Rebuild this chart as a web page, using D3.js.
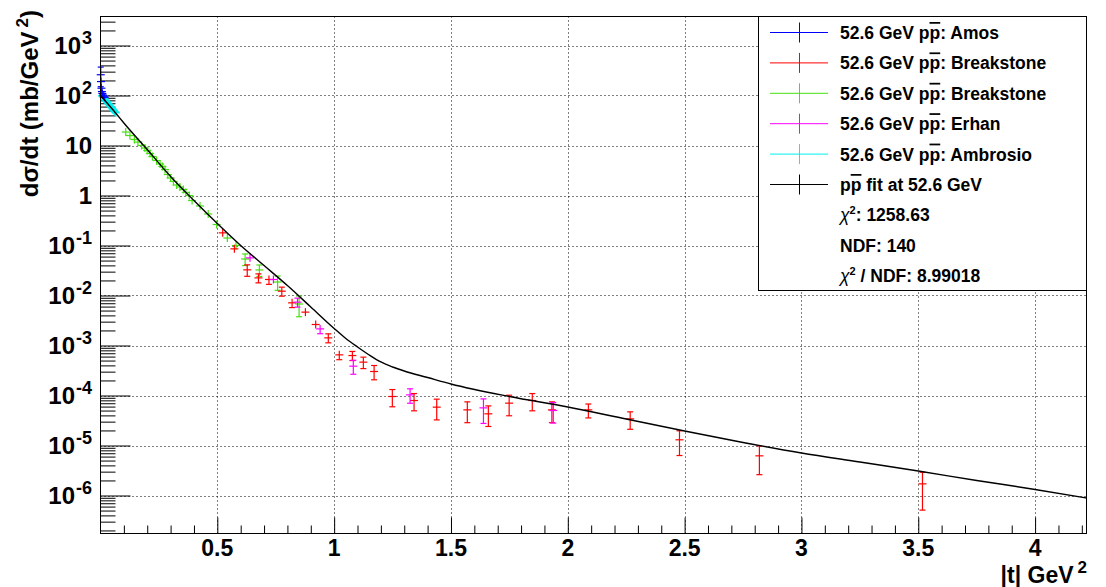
<!DOCTYPE html>
<html><head><meta charset="utf-8">
<script src="https://cdn.jsdelivr.net/npm/d3@7"></script>
<style>
body{margin:0;background:#fff}
text{font-family:"Liberation Sans",Arial,Helvetica,sans-serif;font-weight:bold;fill:#000}
</style>
</head><body>
<svg id="c" width="1106" height="587"></svg>
<script>
// ---------------- data ----------------
// Amos (blue)
const amosT = [0.001, 0.002, 0.004, 0.006, 0.008, 0.011, 0.014, 0.018];
const amosV = [260, 190, 140, 120, 110, 102, 97, 92];
const amosE = [110, 30, 12, 9, 7, 6, 5, 5];
// Breakstone (red)
const brkT = [0.523,0.573,0.628,0.676,0.721,0.776,0.82,0.877,0.921,0.975,1.022,1.078,1.125,1.171,1.249,1.342,1.439,1.57,1.66,1.749,1.848,1.932,2.088,2.267,2.478,2.82,3.518];
const brkV = [0.179,0.0857,0.0326,0.0225,0.0209,0.0122,0.00713,0.00465,0.00263,0.00142,0.00065,0.00063,0.000465,0.000302,9.55e-5,7.94e-5,5.85e-5,5.16e-5,4.30e-5,7.03e-5,7.94e-5,5.16e-5,5.16e-5,3.41e-5,1.30e-5,6.21e-6,1.71e-6];
const brkE = [0.017,0.008,0.0084,0.0046,0.0042,0.0025,0.0014,0.0007,0.0004,0.00029,0.00013,0.00013,0.00012,0.000096,3.6e-5,3.0e-5,2.6e-5,2.3e-5,1.9e-5,3.1e-5,3.0e-5,2.3e-5,1.6e-5,1.3e-5,6.7e-6,3.6e-6,1.2e-6];
// Breakstone (green)
const brk2T = [0.108,0.126,0.145,0.160,0.176,0.190,0.200,0.212,0.222,0.240,0.255,0.265,0.276,0.288,0.300,0.312,0.326,0.340,0.355,0.365,0.380,0.392,0.426,0.461,0.497,0.543,0.58,0.619,0.68,0.758,0.85];
const brk2V = [18.6,15.8,13.2,11.7,10.0,8.91,7.94,6.92,6.03,5.01,4.27,3.80,3.31,2.63,2.24,1.91,1.62,1.48,1.32,1.15,1.00,0.794,0.617,0.427,0.263,0.141,0.100,0.0537,0.0324,0.0186,0.00676];
const brk2E = [1.5,1.3,1.1,0.9,0.8,0.7,0.6,0.55,0.5,0.4,0.35,0.3,0.27,0.21,0.18,0.15,0.13,0.12,0.11,0.09,0.08,0.065,0.05,0.035,0.025,0.014,0.012,0.014,0.0084,0.0059,0.0030];
// Erhan (magenta)
const erhT = [0.64,0.74,0.843,0.94,1.082,1.325,1.639,1.938];
const erhV = [0.0566,0.0209,0.00736,0.00215,0.000386,0.000103,5.66e-5,5.01e-5];
const erhE = [0.0084,0.0031,0.0015,0.00043,0.00012,3.3e-5,2.9e-5,2.2e-5];
// Ambrosio (cyan)
const ambT = [0.006,0.009,0.012,0.015,0.018,0.021,0.024,0.027,0.030,0.033,0.036,0.039,0.042,0.045,0.048,0.051,0.054,0.057,0.060,0.063,0.066];
const ambV = [99,95,91,88,85,81,78,75,72,69,67,64,61,59,56.5,54,52,50,48,46.5,45];
const ambE = [4,4,4,4,3.5,3.5,3.5,3,3,3,3,3,2.5,2.5,2.5,2.5,2.5,2.5,2.5,2.5,2.5];
// fit curve samples
const fitT = [0,0.07,0.1,0.2,0.3,0.4,0.5,0.6,0.7,0.8,0.9,1.0,1.05,1.1,1.15,1.2,1.25,1.3,1.4,1.5,1.75,2.0,2.25,2.5,2.75,3.0,3.25,3.5,3.75,4.0,4.22];
const fitV = [100,41.7,28.2,8.32,2.40,0.794,0.275,0.100,0.0398,0.0158,0.00589,0.00219,0.00138,0.000933,0.000646,0.000468,0.000372,0.000309,0.000229,0.000170,9.55e-5,5.89e-5,3.39e-5,1.95e-5,1.15e-5,7.08e-6,4.68e-6,3.09e-6,2.0e-6,1.32e-6,8.91e-7];
// axes
const xTicks = [0.5,1,1.5,2,2.5,3,3.5,4];
const xTickLabels = ["0.5","1","1.5","2","2.5","3","3.5","4"];
const yDecades = [-6,-5,-4,-3,-2,-1,0,1,2,3];
const legendLabels = ["Amos","Breakstone","Breakstone","Erhan","Ambrosio"];
const chi2 = "1258.63", ndf = "140", chi2ndf = "8.99018";

// ---------------- drawing ----------------
const svg = d3.select("#c");
const L=100.5, R=1086.5, T=16.5, B=533.5;
const x = d3.scaleLinear().domain([0,4.22]).range([L,R]);
const y = d3.scaleLog().domain([Math.pow(10,-6.76), Math.pow(10,3.58)]).range([B,T]);

// grid
const grid = svg.append("g").attr("stroke","#000").attr("stroke-width",1).attr("stroke-dasharray","1,3");
xTicks.forEach(t=>grid.append("line").attr("x1",Math.round(x(t))+0.5).attr("x2",Math.round(x(t))+0.5).attr("y1",T).attr("y2",B));
yDecades.forEach(d=>{const yy=Math.round(y(Math.pow(10,d)))+0.5;grid.append("line").attr("x1",L).attr("x2",R).attr("y1",yy).attr("y2",yy);});

// x axis ticks (inward)
const xMinor = d3.range(1,43).map(i=>i/10).filter(v=>Math.abs(v*2-Math.round(v*2))>1e-6 && v<=4.22);
const xAxMaj = d3.axisBottom(x).tickValues(xTicks).tickSize(-16).tickFormat("");
const xAxMin = d3.axisBottom(x).tickValues(xMinor).tickSize(-8).tickFormat("");
svg.append("g").attr("transform",`translate(0,${B})`).call(xAxMaj).call(g=>g.select(".domain").remove());
svg.append("g").attr("transform",`translate(0,${B})`).call(xAxMin).call(g=>g.select(".domain").remove());
// y axis ticks
const yMaj = yDecades.map(d=>Math.pow(10,d));
const yMin = [];
for(let d=-7; d<=3; d++) for(let k=2;k<=9;k++){const v=k*Math.pow(10,d); if(v>=y.domain()[0] && v<=y.domain()[1]) yMin.push(v);}
svg.append("g").attr("transform",`translate(${L},0)`).call(d3.axisLeft(y).tickValues(yMaj).tickSize(-30).tickFormat("")).call(g=>g.select(".domain").remove());
svg.append("g").attr("transform",`translate(${L},0)`).call(d3.axisLeft(y).tickValues(yMin).tickSize(-15).tickFormat("")).call(g=>g.select(".domain").remove());
svg.selectAll(".tick line").attr("stroke","#000");

// tick labels
const FS = 24, SS = 18, XFS = 23;
xTicks.forEach((t,i)=>svg.append("text").attr("x",x(t)).attr("y",556).attr("text-anchor","middle").attr("font-size",XFS).text(xTickLabels[i]));
yDecades.forEach(d=>{
  const tx = svg.append("text").attr("x",92).attr("y",y(Math.pow(10,d))+8).attr("text-anchor","end").attr("font-size",FS);
  if(d===0) tx.text("1");
  else if(d===1) tx.text("10");
  else { tx.append("tspan").text("10"); tx.append("tspan").attr("font-size",SS).attr("dx",1).attr("dy",-10).text(String(d)); }
});
// axis titles
const xt = svg.append("text").attr("x",1087).attr("y",583).attr("text-anchor","end").attr("font-size",XFS);
xt.append("tspan").text("|t| GeV");
xt.append("tspan").attr("font-size",17).attr("dx",4).attr("dy",-10).text("2");
const yt = svg.append("text").attr("transform","translate(38,10) rotate(-90)").attr("text-anchor","end").attr("font-size",FS);
yt.append("tspan").text("dσ/dt (mb/GeV");
yt.append("tspan").attr("font-size",17).attr("dx",4).attr("dy",-10).text("2");
yt.append("tspan").attr("dy",10).text(")");

// data points
function drawSeries(Ts,Vs,Es,color){
  const g = svg.append("g").attr("stroke",color).attr("stroke-width",1.2).attr("fill","none");
  Ts.forEach((t,i)=>{
    const cx=x(t), cy=y(Vs[i]);
    const lo = Vs[i]-Es[i] > 0 ? y(Vs[i]-Es[i]) : B;
    const hi = y(Vs[i]+Es[i]);
    const top=Math.min(hi,cy-4), bot=Math.max(lo,cy+4);
    g.append("line").attr("x1",cx).attr("x2",cx).attr("y1",top).attr("y2",bot);
    g.append("line").attr("x1",cx-4).attr("x2",cx+4).attr("y1",cy).attr("y2",cy);
    if(hi<cy-4) g.append("line").attr("x1",cx-3).attr("x2",cx+3).attr("y1",hi).attr("y2",hi);
    if(lo>cy+4) g.append("line").attr("x1",cx-3).attr("x2",cx+3).attr("y1",lo).attr("y2",lo);
  });
}
const colors = ["#0000ff","#ff0000","#44e010","#ff00ff","#00f0f0"];
drawSeries(ambT,ambV,ambE,colors[4]);
drawSeries(brk2T,brk2V,brk2E,colors[2]);
drawSeries(brkT,brkV,brkE,colors[1]);
drawSeries(erhT,erhV,erhE,colors[3]);
drawSeries(amosT,amosV,amosE,colors[0]);

// fit curve
const line = d3.line().x((d,i)=>x(fitT[i])).y((d,i)=>y(fitV[i])).curve(d3.curveMonotoneX);
svg.append("path").attr("d",line(fitT)).attr("fill","none").attr("stroke","#000").attr("stroke-width",1.4);

// frame
svg.append("rect").attr("x",L).attr("y",T).attr("width",R-L).attr("height",B-T).attr("fill","none").attr("stroke","#000");

// legend
const lg = svg.append("g");
lg.append("rect").attr("x",758.5).attr("y",T).attr("width",R-758.5).attr("height",290.5-T).attr("fill","#fff").attr("stroke","#000");
const LFS = 17.5, rowY = i=>32.5+30.4*i;
function ppbar(tx){ tx.append("tspan").text("p"); tx.append("tspan").style("text-decoration","overline").text("p"); }
const entries = legendLabels.map((l,i)=>({label:l,color:colors[i]}));
entries.forEach((e,i)=>{
  const cy=rowY(i);
  lg.append("line").attr("x1",770).attr("x2",828).attr("y1",cy).attr("y2",cy).attr("stroke",e.color);
  lg.append("line").attr("x1",799.5).attr("x2",799.5).attr("y1",cy-10).attr("y2",cy+10).attr("stroke",e.color);
  const tx = lg.append("text").attr("x",840).attr("y",cy+6.5).attr("font-size",LFS);
  tx.append("tspan").text("52.6 GeV ");
  ppbar(tx);
  tx.append("tspan").text(": "+e.label);
});
{
  const cy=rowY(5);
  lg.append("line").attr("x1",770).attr("x2",828).attr("y1",cy).attr("y2",cy).attr("stroke","#000");
  lg.append("line").attr("x1",799.5).attr("x2",799.5).attr("y1",cy-10).attr("y2",cy+10).attr("stroke","#000");
  const tx = lg.append("text").attr("x",840).attr("y",cy+6.5).attr("font-size",LFS);
  ppbar(tx); tx.append("tspan").text(" fit at 52.6 GeV");
}
function chiRow(i, rest){
  const tx = lg.append("text").attr("x",840).attr("y",rowY(i)+6.5).attr("font-size",LFS);
  tx.append("tspan").attr("font-weight","normal").attr("font-style","italic").text("χ");
  tx.append("tspan").attr("font-size",11).attr("dy",-7).text("2");
  tx.append("tspan").attr("dy",7).text(rest);
}
chiRow(6, ": "+chi2);
lg.append("text").attr("x",840).attr("y",rowY(7)+6.5).attr("font-size",LFS).text("NDF: "+ndf);
chiRow(8, " / NDF: "+chi2ndf);
</script>
</body></html>
